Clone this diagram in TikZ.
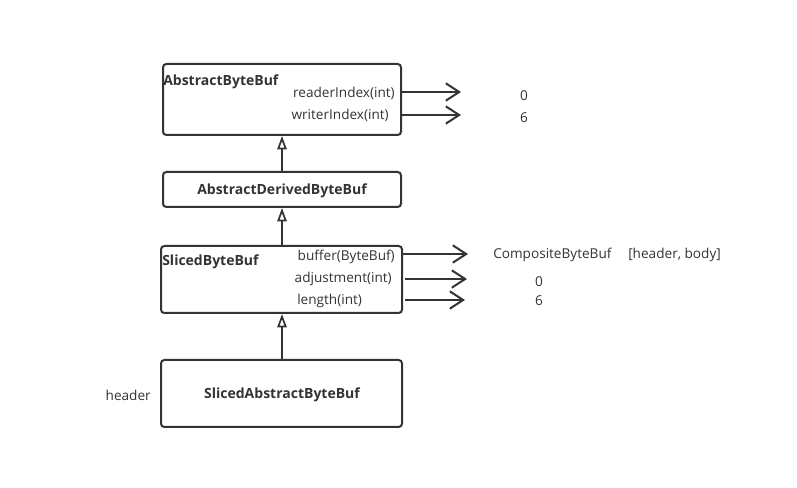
\documentclass[tikz,border=0pt]{standalone}
\usepackage{fontspec}
\setmainfont{Open Sans}
\usetikzlibrary{arrows.meta}
\definecolor{ink}{HTML}{333333}
\begin{document}
\begin{tikzpicture}[x=0.75pt,y=-0.75pt,
  box/.style={draw=ink,line width=1.5pt,rounded corners=2.5pt,inner sep=0pt},
  txt/.style={inner sep=0pt,text=ink,font=\fontsize{10.2}{12}\selectfont},
  btxt/.style={txt,font=\fontsize{10.5}{12}\selectfont\bfseries},
  inh/.style={draw=ink,line width=1.5pt,-{Triangle[open,length=10pt,width=7pt,line width=1.3pt]}},
  ref/.style={draw=ink,line width=1.5pt,-{Straight Barb[length=10pt,width=13pt,line width=1.5pt]}}]
\useasboundingbox (0,0) rectangle (797,488);
% boxes
\node[box,minimum width=238*0.75pt,minimum height=71*0.75pt] (abb) at (282,99.5) {};
\node[box,minimum width=238*0.75pt,minimum height=35*0.75pt] (adb) at (282,189.5) {};
\node[box,minimum width=241*0.75pt,minimum height=67*0.75pt] (sbb) at (281.5,279.5) {};
\node[box,minimum width=241*0.75pt,minimum height=67*0.75pt] (sab) at (281.5,393.5) {};
% texts
\node[btxt,anchor=west] (abbt) at (163,82) {AbstractByteBuf};
\node[txt,anchor=east] (ri) at (395,93) {readerIndex(int)};
\node[txt,anchor=east] (wi) at (389,115) {writerIndex(int)};
\node[btxt] (adbt) at (282,191) {AbstractDerivedByteBuf};
\node[btxt,anchor=west] (sbbt) at (162,262) {SlicedByteBuf};
\node[txt,anchor=east] (bf) at (395,257) {buffer(ByteBuf)};
\node[txt,anchor=east] (adj) at (392,279) {adjustment(int)};
\node[txt,anchor=west] (len) at (297,301) {length(int)};
\node[btxt] (sabt) at (282,395) {SlicedAbstractByteBuf};
\node[txt,anchor=east] (hdr) at (151,395) {header};
\node[txt] (v0) at (524,96) {0};
\node[txt] (v6) at (524,118) {6};
\node[txt,anchor=west] (cbb) at (493,255) {CompositeByteBuf};
\node[txt,anchor=west] (hb) at (628,255) {[header, body]};
\node[txt] (w0) at (539,282) {0};
\node[txt] (w6) at (539,301) {6};
% arrow ends
\coordinate (e1) at (461,92);
\coordinate (e2) at (461,115);
\coordinate (e3) at (468,254);
\coordinate (e4) at (467,279);
\coordinate (e5) at (465,300);
% inheritance
\draw[inh] (adb.north) -- (abb.south);
\draw[inh] (sbb.north -| adb.north) -- (adb.south);
\draw[inh] (sab.north -| adb.north) -- (sbb.south -| adb.north);
% references
\draw[ref] (abb.east |- e1) -- (e1);
\draw[ref] (abb.east |- e2) -- (e2);
\draw[ref] (sbb.east |- e3) -- (e3);
\draw[ref] ([xshift=1.5pt]sbb.east |- e4) -- (e4);
\draw[ref] ([xshift=1.5pt]sbb.east |- e5) -- (e5);
\end{tikzpicture}
\end{document}
